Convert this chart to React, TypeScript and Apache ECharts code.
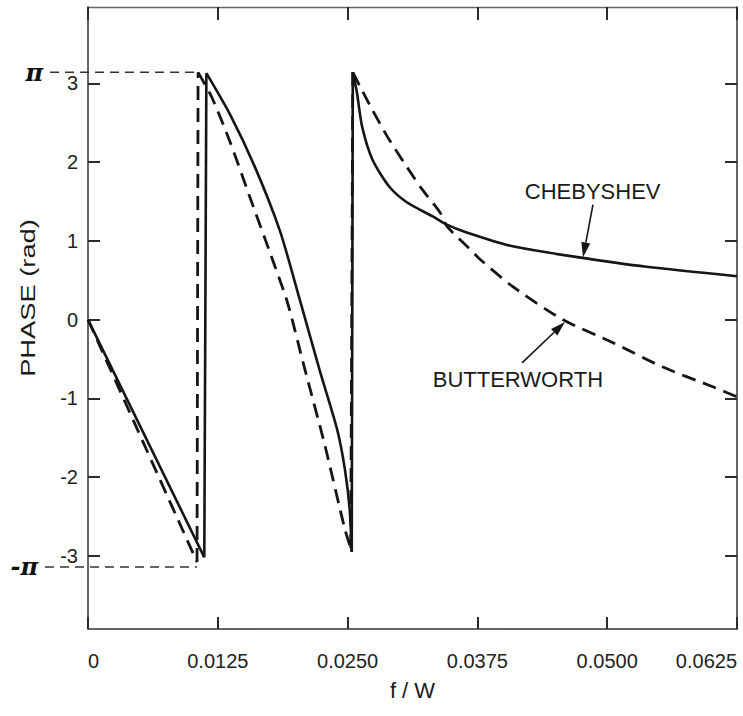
import React, { useEffect, useRef } from "react";
import * as echarts from "echarts";

// ---- data ----
const xTickInterval = 0.0125;
const yTickValues = [-3, -2, -1, 0, 1, 2, 3];

const chebyshevX = [0, 0.0112, 0.0114, 0.0137, 0.0161, 0.0185, 0.0204, 0.0223, 0.024, 0.02475, 0.0252, 0.0254, 0.0255, 0.0259, 0.0264, 0.0274, 0.029, 0.0307, 0.0332, 0.0345, 0.0364, 0.0409, 0.0473, 0.0538, 0.0625];
const chebyshevY = [0, -3.02, 3.13, 2.6, 1.93, 1.12, 0.25, -0.64, -1.4, -1.91, -2.41, -2.95, 3.14, 2.88, 2.45, 2.03, 1.69, 1.49, 1.31, 1.21, 1.11, 0.93, 0.79, 0.67, 0.55];

const butterworthX = [0, 0.0105, 0.0106, 0.0119, 0.0137, 0.0156, 0.0175, 0.0192, 0.0209, 0.0228, 0.02475, 0.0253, 0.0255, 0.0262, 0.0274, 0.0288, 0.0307, 0.0322, 0.0339, 0.0346, 0.0365, 0.0378, 0.0409, 0.0457, 0.0505, 0.0553, 0.0601, 0.0625];
const butterworthY = [0, -3.08, 3.14, 2.83, 2.25, 1.55, 0.86, 0.22, -0.64, -1.59, -2.67, -2.9, 3.14, 2.96, 2.66, 2.33, 1.94, 1.65, 1.36, 1.18, 0.93, 0.76, 0.42, 0.0, -0.29, -0.6, -0.85, -0.98];

// annotation anchors (data coords): label centre, arrow tail, arrow tip
const chebLabel = [0.0486, 1.63];
const chebArrowTail = [0.04863, 1.46];
const chebArrowTip = [0.04767, 0.79];
const butterLabel = [0.0414, -0.76];
const butterArrowTail = [0.0418, -0.55];
const butterArrowTip = [0.04594, -0.03];

// pi guide lines end at the wrap points of the dashed curve
const piGuideEndX = 0.0106;
const negPiGuideEndX = 0.0105;

const X_MIN = 0;
const X_MAX = 0.0625;
const Y_MIN = -3.93;
const Y_MAX = 3.97;

const FONT = "'Liberation Sans', Arial, sans-serif";
const INK = "#151515";

// split a wrapped-phase curve into smooth pieces and the vertical wrap jumps
function splitCurve(xs: number[], ys: number[]) {
  const pieces: number[][][] = [];
  const jumps: number[][][] = [];
  let cur: number[][] = [[xs[0], ys[0]]];
  for (let i = 1; i < xs.length; i++) {
    if (ys[i] - ys[i - 1] > 3) {
      pieces.push(cur);
      jumps.push([
        [xs[i - 1], ys[i - 1]],
        [xs[i], ys[i]],
      ]);
      cur = [[xs[i], ys[i]]];
    } else {
      cur.push([xs[i], ys[i]]);
    }
  }
  pieces.push(cur);
  return { pieces, jumps };
}

function curveSeries(name: string, xs: number[], ys: number[], lineStyle: any, z: number) {
  const { pieces, jumps } = splitCurve(xs, ys);
  const out: any[] = [];
  pieces.forEach((p) =>
    out.push({
      name,
      type: "line",
      data: p,
      symbol: "none",
      showSymbol: false,
      smooth: 0.25,
      lineStyle: { ...lineStyle },
      z,
    })
  );
  jumps.forEach((j) =>
    out.push({
      name,
      type: "line",
      data: j,
      symbol: "none",
      showSymbol: false,
      smooth: false,
      lineStyle: { ...lineStyle },
      z,
    })
  );
  return out;
}

const axisLineOpt = (color: string, width: number) => ({ show: true, onZero: false, lineStyle: { color, width } });
const tickOpt = (len: number, extra: any = {}) => ({
  show: true,
  inside: true,
  length: len,
  lineStyle: { color: "#2b2b2b", width: 2 },
  ...extra,
});

export default function App() {
  const ref = useRef<HTMLDivElement>(null);

  useEffect(() => {
    if (!ref.current) return;
    const chart = echarts.init(ref.current, null, { renderer: "svg" });

    const option: any = {
      animation: false,
      backgroundColor: "#ffffff",
      grid: { left: 88, right: 6, top: 7, bottom: 87, containLabel: false },
      xAxis: [
        {
          type: "value",
          min: X_MIN,
          max: X_MAX,
          interval: xTickInterval,
          position: "bottom",
          axisLine: axisLineOpt("#333", 1.5),
          axisTick: tickOpt(12),
          axisLabel: {
            show: true,
            margin: 22,
            fontSize: 20,
            fontFamily: FONT,
            color: "#222",
            alignMinLabel: "left",
            alignMaxLabel: "right",
            formatter: (v: number) => (Math.abs(v) < 1e-9 ? "0" : v.toFixed(4)),
          },
          splitLine: { show: false },
        },
        {
          type: "value",
          min: X_MIN,
          max: X_MAX,
          interval: xTickInterval,
          position: "top",
          axisLine: axisLineOpt("#666", 1.3),
          axisTick: tickOpt(13),
          axisLabel: { show: false },
          splitLine: { show: false },
        },
      ],
      yAxis: [
        {
          type: "value",
          min: Y_MIN,
          max: Y_MAX,
          position: "left",
          axisLine: axisLineOpt("#333", 1.5),
          axisTick: tickOpt(12, { customValues: yTickValues }),
          axisLabel: {
            show: true,
            margin: 10,
            fontSize: 20,
            fontFamily: FONT,
            color: "#222",
            customValues: yTickValues,
            formatter: (v: number) => String(v),
          },
          splitLine: { show: false },
        },
        {
          type: "value",
          min: Y_MIN,
          max: Y_MAX,
          position: "right",
          axisLine: axisLineOpt("#333", 1.5),
          axisTick: tickOpt(12, { customValues: yTickValues }),
          axisLabel: { show: false, customValues: yTickValues },
          splitLine: { show: false },
        },
      ],
      series: [
        ...curveSeries("BUTTERWORTH", butterworthX, butterworthY, { color: INK, width: 2.8, type: [14, 8], cap: "butt" }, 3),
        ...curveSeries("CHEBYSHEV", chebyshevX, chebyshevY, { color: INK, width: 2.6 }, 4),
      ],
    };
    chart.setOption(option);

    const px = (p: number[]) => chart.convertToPixel({ seriesIndex: 0 }, p) as number[];

    const arrow = (tail: number[], tip: number[]) => {
      const a = px(tail);
      const b = px(tip);
      const dx = b[0] - a[0];
      const dy = b[1] - a[1];
      const len = Math.hypot(dx, dy) || 1;
      const ux = dx / len;
      const uy = dy / len;
      const L = 15;
      const W = 4.5;
      const bx = b[0] - ux * L;
      const by = b[1] - uy * L;
      return [
        {
          type: "line",
          shape: { x1: a[0], y1: a[1], x2: bx, y2: by },
          style: { stroke: INK, lineWidth: 1.6 },
          silent: true,
        },
        {
          type: "polygon",
          shape: {
            points: [
              [b[0], b[1]],
              [bx - uy * W, by + ux * W],
              [bx + uy * W, by - ux * W],
            ],
          },
          style: { fill: INK },
          silent: true,
        },
      ];
    };

    const axisX = px([X_MIN, 0])[0];
    const topRight = px([X_MAX, Y_MAX]);
    const bottomLeft = px([X_MIN, Y_MIN]);
    const piY = px([0, Math.PI])[1];
    const negPiY = px([0, -Math.PI])[1];
    const piEnd = px([piGuideEndX, Math.PI])[0];
    const negPiEnd = px([negPiGuideEndX, -Math.PI])[0];
    const cl = px(chebLabel);
    const bl = px(butterLabel);
    const midX = (bottomLeft[0] + topRight[0]) / 2;
    const midY = (bottomLeft[1] + topRight[1]) / 2;

    const guideStyle = () => ({ stroke: "#333", lineWidth: 1.4, lineDash: [9, 6] });
    const labelStyle = () => ({ fill: "#1a1a1a", fontFamily: FONT, fontSize: 22 });
    const piStyle = () => ({ fill: "#111", fontFamily: "'DejaVu Serif', serif", fontSize: 24, fontStyle: "italic", fontWeight: "bold" });

    chart.setOption({
      graphic: [
        { type: "line", shape: { x1: axisX - 38, y1: piY, x2: piEnd, y2: piY }, style: guideStyle(), silent: true },
        { type: "line", shape: { x1: axisX - 43, y1: negPiY, x2: negPiEnd, y2: negPiY }, style: guideStyle(), silent: true },
        {
          type: "text",
          x: axisX - 45,
          y: piY,
          style: { text: "π", align: "right", verticalAlign: "middle", ...piStyle() },
          silent: true,
        },
        {
          type: "text",
          x: axisX - 50,
          y: negPiY,
          style: { text: "-π", align: "right", verticalAlign: "middle", ...piStyle() },
          silent: true,
        },
        {
          type: "text",
          x: cl[0],
          y: cl[1],
          style: { text: "CHEBYSHEV", align: "center", verticalAlign: "middle", ...labelStyle() },
          silent: true,
        },
        {
          type: "text",
          x: bl[0],
          y: bl[1],
          style: { text: "BUTTERWORTH", align: "center", verticalAlign: "middle", ...labelStyle() },
          silent: true,
        },
        ...arrow(chebArrowTail, chebArrowTip),
        ...arrow(butterArrowTail, butterArrowTip),
        {
          type: "text",
          x: 28,
          y: midY - 20,
          rotation: Math.PI / 2,
          scaleX: 1.3,
          style: { text: "PHASE (rad)", align: "center", verticalAlign: "middle", ...labelStyle(), fontSize: 21 },
          silent: true,
        },
        {
          type: "text",
          x: midX,
          y: 690,
          style: { text: "f / W", align: "center", verticalAlign: "middle", ...labelStyle() },
          silent: true,
        },
      ],
    });

    return () => chart.dispose();
  }, []);

  return (
    <div
      ref={ref}
      style={{ position: "fixed", left: 0, top: 0, width: 743, height: 716, background: "#fff" }}
    />
  );
}
